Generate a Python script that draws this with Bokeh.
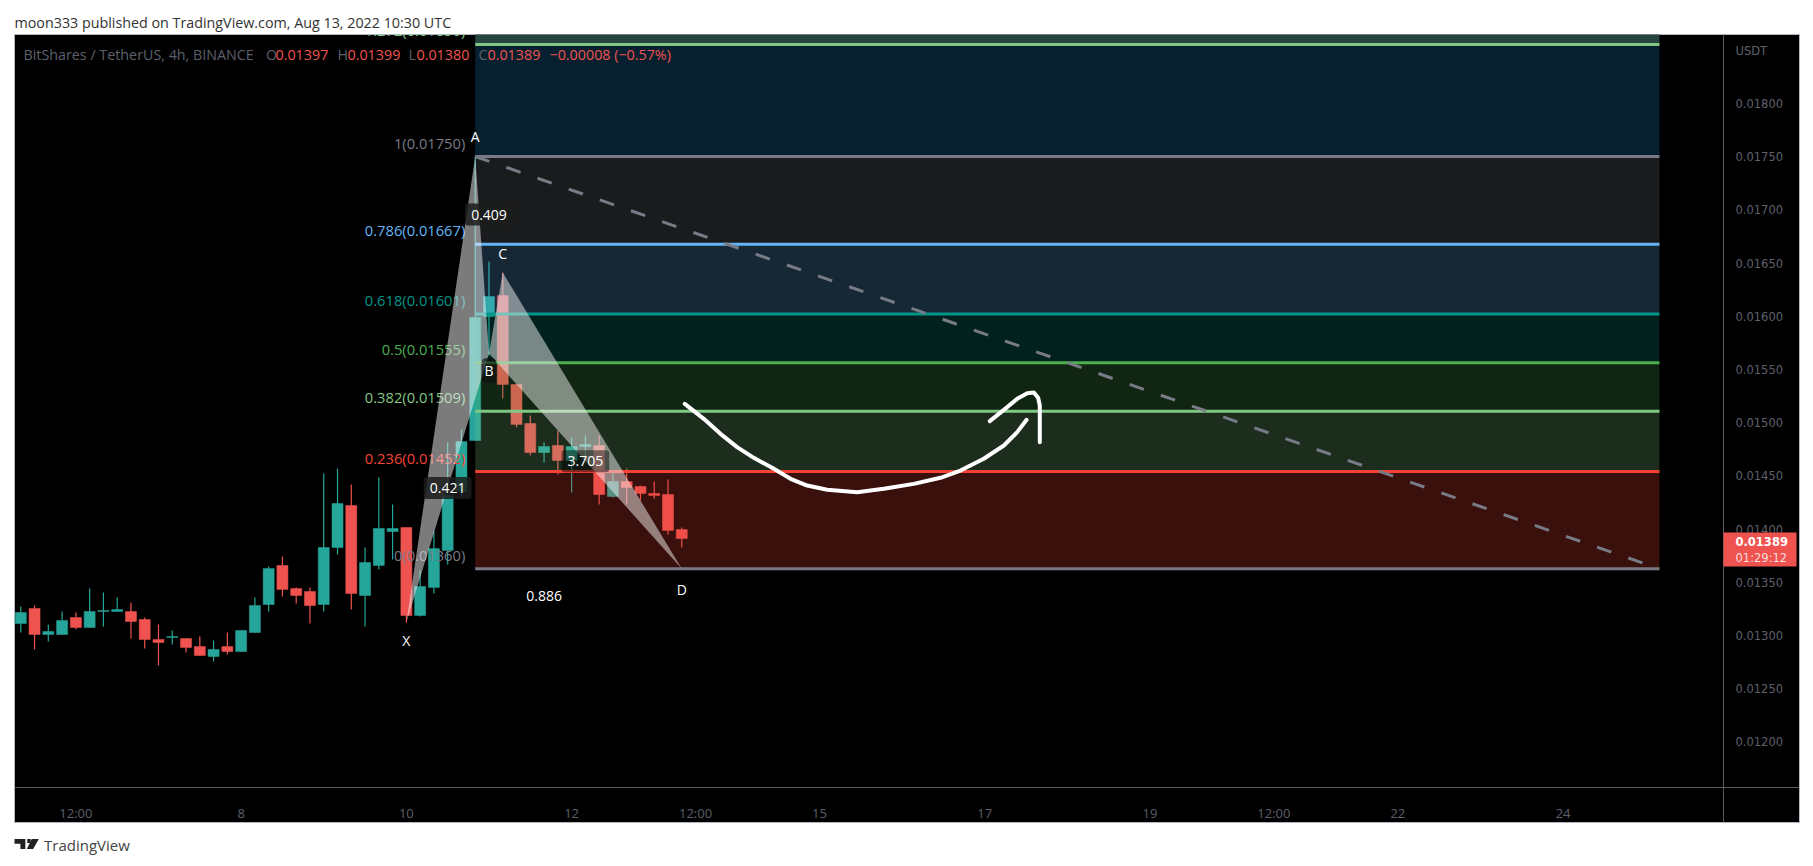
from bokeh.plotting import figure
from bokeh.layouts import column
from bokeh.models import (Range1d, LinearAxis, FixedTicker, BoxAnnotation, Label, ColumnDataSource,
                          NumeralTickFormatter, Span, Title)
from bokeh.core.properties import value
from bokeh.embed import file_html
from bokeh.resources import INLINE

# candles (bar index = position in list)
open_ = [.013083,.013225,.012979,.012979,.013140,.013045,.013197,.013197,.013197,.013121,.012932,.012951,.012941,.012865,.012771,.012865,.012818,.012998,
         .013263,.013632,.013414,.013386,.013263,.013802,.014199,.013348,.013632,.013953,.013991,.013159,.013424,.013774,.014332,.014814,.015987,.016186,
         .015344,.014975,.014700,.014767,.014625,.014757,.014767,.014284,.014426,.014379,.014313,.014303,.013972]
high_ = [.013244,.013253,.013074,.013197,.013187,.013414,.013376,.013329,.013282,.013140,.013074,.013017,.012941,.012960,.012922,.012998,.013017,.013329,
         .013622,.013717,.013424,.013424,.014502,.014549,.014398,.013802,.014464,.014209,.013991,.013584,.013953,.014795,.014918,.017500,.016507,.016403,
         .015344,.015051,.014795,.014909,.014842,.014861,.014861,.014530,.014549,.014388,.014426,.014445,.013991]
low_ = [.012998,.012837,.012913,.012979,.013026,.013045,.013055,.013197,.012941,.012847,.012686,.012884,.012809,.012780,.012724,.012790,.012818,.012998,
        .013197,.013338,.013272,.013083,.013197,.013736,.013215,.013055,.013594,.013688,.013093,.013149,.013367,.013641,.014285,.014814,.015618,.015211,
        .014937,.014672,.014606,.014492,.014322,.014625,.014209,.014275,.014209,.014247,.014265,.013925,.013802]
close = [.013187,.012979,.013007,.013111,.013045,.013197,.013206,.013215,.013102,.012932,.012903,.012960,.012856,.012780,.012837,.012818,.013017,.013253,
         .013603,.013405,.013348,.013253,.013802,.014218,.013367,.013660,.013982,.013982,.013159,.013433,.013792,.014294,.014804,.015977,.016176,.015344,
         .014966,.014700,.014757,.014625,.014757,.014776,.014303,.014426,.014369,.014313,.014294,.013963,.013887]

# fibonacci retracement levels
fib_ratio = ["1.272", "1", "0.786", "0.618", "0.5", "0.382", "0.236", "0"]
fib_price = [.01856, .01750, .01667, .01601, .01555, .01509, .01452, .01360]
fib_label = ["0.01856", "0.01750", "0.01667", "0.01601", "0.01555", "0.01509", "0.01452", "0.01360"]
fib_line = ["#81c784", "#787b86", "#64b5f6", "#009688", "#4caf50", "#81c784", "#f44336", "#787b86"]
band_top = [.01991, .01856, .01750, .01667, .01601, .01555, .01509, .01452]
band_bottom = [.01856, .01750, .01667, .01601, .01555, .01509, .01452, .01360]
band_color = ["#26453f", "#1e90d8", "#787b86", "#64b5f6", "#009688", "#4caf50", "#81c784", "#f44336"]
band_alpha = [1, .22, .22, .22, .22, .22, .22, .24]
fib_start, fib_end = 33, 119

# XABCD harmonic pattern
pattern_name = ["X", "A", "B", "C", "D"]
pattern_x = [28, 33, 34, 35, 48]
pattern_y = [.013093, .01750, .015637, .016403, .01360]
ratio_text = ["0.421", "0.409", "3.705", "0.886"]
ratio_pair = [(0, 2), (1, 3), (2, 4), (0, 4)]
ratio_box = ["#1c1c1c", "#1c1c1c", "#000000", "#000000"]
ratio_box_alpha = [0.85, 0.85, 0.45, 0]

# hand-drawn arrow
stroke1_x = [48.22,49.6,50.81,52.02,53.23,54.69,55.9,57.11,58.56,60.74,62.67,64.85,66.79,68.24,69.93,71.39,72.36,73.04]
stroke1_y = [.015161,.015019,.014877,.014751,.014650,.014546,.014452,.014388,.014348,.014325,.014357,.014404,.014461,.014530,.014641,.014767,.014893,.015010]
stroke2_x = [70.37,71.39,72.36,73.09,73.57,73.88,74.0,74.0]
stroke2_y = [.014997,.015104,.015208,.015261,.015268,.015218,.015145,.014798]

time_ticks = [4, 16, 28, 40, 49, 58, 70, 82, 91, 100, 112]
time_labels = ["12:00", "8", "10", "12", "12:00", "15", "17", "19", "12:00", "22", "24"]
price_ticks = [.012, .0125, .013, .0135, .014, .0145, .015, .0155, .016, .0165, .017, .0175, .018]

UP, DOWN = "#26a69a", "#ef5350"
DIM = "#5d606b"
FONT = "Open Sans"
PANEL_LINE = "#5a5a5a"

p = figure(width=1813, height=826, output_backend="svg", toolbar_location=None,
           x_range=Range1d(-0.457, 129.17), y_range=Range1d(.011201, .018654),
           x_axis_type=None, y_axis_type=None,
           min_border_left=14, min_border_right=14, min_border_top=34, min_border_bottom=4,
           background_fill_color="#000000", border_fill_color="#ffffff", outline_line_color="#b2b5be")
p.grid.visible = False
p.extra_y_ranges = {"axis": Range1d(.011242, .018648)}

# axes
xaxis = LinearAxis(ticker=FixedTicker(ticks=time_ticks),
                   major_label_overrides={t: l for t, l in zip(time_ticks, time_labels)},
                   major_tick_line_color=None, minor_tick_line_color=None, axis_line_color=None,
                   major_label_text_color=DIM, major_label_text_font=FONT, major_label_text_font_size="13px",
                   major_label_standoff=-25)
p.add_layout(xaxis, "below")
yaxis = LinearAxis(y_range_name="axis", ticker=FixedTicker(ticks=price_ticks), formatter=NumeralTickFormatter(format="0.00000"),
                   major_tick_line_color=None, minor_tick_line_color=None, axis_line_color=None,
                   major_label_text_color=DIM, major_label_text_font="DejaVu Sans", major_label_text_font_size="11.5px",
                   major_label_standoff=-70)
p.add_layout(yaxis, "right")

# header lives in the title panel
p.add_layout(Title(text="moon333 published on TradingView.com, Aug 13, 2022 10:30 UTC", text_color="#333333",
                   text_font=FONT, text_font_size="14.3px", text_font_style="normal", standoff=6, offset=0), "above")

# panel separators
p.add_layout(Span(location=123.65, dimension="height", line_color=PANEL_LINE, line_width=1))
p.add_layout(Span(location=.011532, dimension="width", line_color=PANEL_LINE, line_width=1))

# candles
idx = list(range(len(close)))
col = [UP if c >= o else DOWN for o, c in zip(open_, close)]
src = ColumnDataSource(dict(x=idx, o=open_, h=high_, l=low_, c=close, col=col))
p.segment("x", "h", "x", "l", source=src, line_color="col", line_width=1.2)
p.vbar("x", 0.8, "o", "c", source=src, fill_color="col", line_color="col", line_width=0.5)

# fib bands (translucent, over the candles)
p.quad(left=fib_start, right=fib_end, top=band_top, bottom=band_bottom, fill_color=band_color, fill_alpha=band_alpha, line_color=None)

# fib lines + trend line
p.segment(x0=[fib_start] * len(fib_price), x1=[fib_end] * len(fib_price), y0=fib_price, y1=fib_price,
          line_color=fib_line, line_width=3)
p.line([fib_start, fib_end], [fib_price[1], fib_price[-1]], line_color="#787b86", line_width=3, line_dash="15 18")

# fib labels
p.text(x=[fib_start] * len(fib_price), y=fib_price,
       text=[f"{r}({l})" for r, l in zip(fib_ratio, fib_label)],
       text_color=fib_line, text_align="right", text_baseline="middle", x_offset=-10, y_offset=-14,
       text_font=value(FONT), text_font_size="14.7px")

# pattern triangles
p.patch([pattern_x[i] for i in (0, 1, 2)], [pattern_y[i] for i in (0, 1, 2)], fill_color="#f6f6f8", fill_alpha=0.5, line_color=None)
p.patch([pattern_x[i] for i in (2, 3, 4)], [pattern_y[i] for i in (2, 3, 4)], fill_color="#f0f0f0", fill_alpha=0.5, line_color=None)

# arrow
for sx, sy in ((stroke1_x, stroke1_y), (stroke2_x, stroke2_y)):
    p.line(sx, sy, line_color="#ffffff", line_width=4, line_cap="round", line_join="round")

# pattern annotations
letter_offset = [-18, 20, -17, 19, -21]
for n, x, y, dy in zip(pattern_name, pattern_x, pattern_y, letter_offset):
    p.add_layout(Label(x=x, y=y, y_offset=dy, text=n, text_color="#ffffff", text_font=FONT, text_font_size="14px",
                       text_align="center", text_baseline="middle", background_fill_color="#101010",
                       background_fill_alpha=0.65 if n == "B" else 0, padding=3, border_radius=5))
for t, (a, b), bc, ba in zip(ratio_text, ratio_pair, ratio_box, ratio_box_alpha):
    p.add_layout(Label(x=(pattern_x[a] + pattern_x[b]) / 2, y=(pattern_y[a] + pattern_y[b]) / 2, text=t,
                       text_color="#ffffff", text_font=FONT, text_font_size="14px",
                       text_align="center", text_baseline="middle", background_fill_color=bc,
                       background_fill_alpha=ba, padding=6, border_radius=3))

def canvas_label(x, y, text, color, size="14px", font=FONT, style="normal"):
    p.add_layout(Label(x=x, y=y, x_units="canvas", y_units="canvas", text=text, text_color=color, text_font=font,
                       text_font_size=size, text_font_style=style, text_baseline="middle", level="overlay"))

# legend
legend_x = [23, 265.5, 275, 337, 347, 408, 416, 478, 487, 549]
legend_text = ["BitShares / TetherUS, 4h, BINANCE", "O", "0.01397", "H", "0.01399", "L", "0.01380", "C", "0.01389", "\u22120.00008 (\u22120.57%)"]
legend_color = [DIM, DIM, DOWN, DIM, DOWN, DIM, DOWN, DIM, DOWN, DOWN]
for x, t, c in zip(legend_x, legend_text, legend_color):
    canvas_label(x, 54, t, c, "14.3px")

canvas_label(1735, 50, "USDT", DIM, "11.5px", "DejaVu Sans")

# price tag
p.add_layout(BoxAnnotation(left=1723, right=1796, top=532, bottom=566, left_units="canvas", right_units="canvas",
                           top_units="canvas", bottom_units="canvas", fill_color=DOWN, fill_alpha=1, line_color=None,
                           level="overlay"))
canvas_label(1735, 541, "0.01389", "#ffffff", "11.5px", "DejaVu Sans", "bold")
canvas_label(1735, 557, "01:29:12", "#fbdcdc", "11.5px", "DejaVu Sans")

# footer strip with the logo and wordmark (its ranges run in page pixels)
foot = figure(width=1813, height=40, output_backend="svg", toolbar_location=None,
              x_range=Range1d(14, 1827), y_range=Range1d(866, 826), x_axis_type=None, y_axis_type=None,
              min_border=0, outline_line_color=None, background_fill_color="#ffffff", border_fill_color="#ffffff")
foot.grid.visible = False
foot.patches([[13, 25, 25, 20, 20, 13], [27, 30.5, 30.5, 27], [31.5, 38.7, 33, 26.5]],
             [[838.5, 838.5, 848.5, 848.5, 843.2, 843.2], [838.5, 838.5, 842.5, 842.5], [838.5, 838.5, 848.5, 848.5]],
             fill_color="#222222", line_color=None)
foot.text(x=[44], y=[844.5], text=["TradingView"], text_color="#444444", text_baseline="middle",
          text_font=value(FONT), text_font_size="15px")

page = column(p, foot, spacing=0)
open("out.html", "w").write(file_html(page, INLINE))
